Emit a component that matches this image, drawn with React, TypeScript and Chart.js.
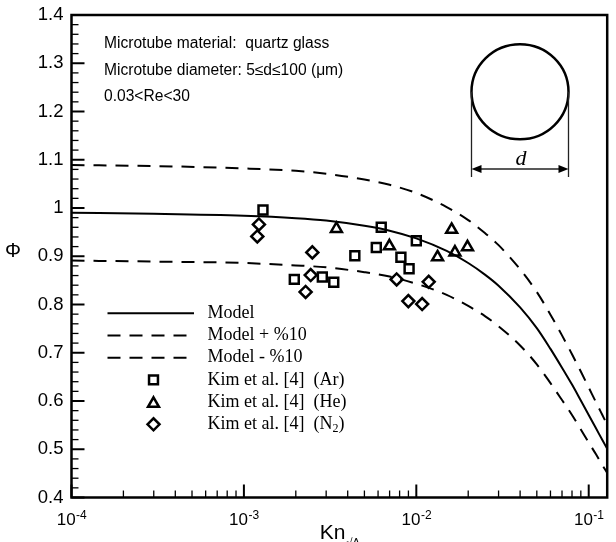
import React, { useEffect, useRef } from 'react';
import { Chart, registerables } from 'chart.js';

Chart.register(...registerables);

// ---- Model curves ----
const KN = [1e-4, 3e-4, 1e-3, 2e-3, 3e-3, 5e-3, 7e-3, 0.01, 0.015, 0.02, 0.025, 0.03, 0.04, 0.05, 0.06, 0.07, 0.08, 0.09, 0.1, 0.11, 0.12, 0.128];
const MODEL = [0.990, 0.988, 0.984, 0.979, 0.974, 0.963, 0.953, 0.937, 0.911, 0.886, 0.862, 0.839, 0.794, 0.751, 0.708, 0.669, 0.634, 0.601, 0.571, 0.544, 0.519, 0.501];
const MODEL_UP = [1.089, 1.087, 1.082, 1.077, 1.071, 1.059, 1.048, 1.031, 1.002, 0.975, 0.948, 0.923, 0.873, 0.826, 0.779, 0.736, 0.697, 0.661, 0.628, 0.598, 0.571, 0.551];
const MODEL_LO = [0.891, 0.889, 0.886, 0.881, 0.877, 0.867, 0.858, 0.843, 0.820, 0.797, 0.776, 0.755, 0.715, 0.676, 0.637, 0.602, 0.571, 0.541, 0.514, 0.490, 0.467, 0.451];

// ---- Experimental data: Kim et al. [4] ----
const AR_KN = [1.29e-3, 6.26e-3, 5.86e-3, 4.40e-3, 1.0e-2, 8.14e-3, 9.08e-3, 1.96e-3, 2.85e-3, 3.32e-3];
const AR_PHI = [0.996, 0.960, 0.918, 0.901, 0.932, 0.898, 0.874, 0.852, 0.857, 0.846];
const HE_KN = [3.44e-3, 6.98e-3, 1.328e-2, 1.603e-2, 1.675e-2, 1.981e-2];
const HE_PHI = [0.957, 0.921, 0.898, 0.955, 0.908, 0.919];
const N2_KN = [1.222e-3, 1.196e-3, 2.494e-3, 2.44e-3, 2.28e-3, 7.69e-3, 1.18e-2, 8.99e-3, 1.081e-2];
const N2_PHI = [0.966, 0.941, 0.908, 0.861, 0.826, 0.852, 0.847, 0.807, 0.801];

// ---- Axes ----
const X_MIN = 1e-4;
const X_MAX = 0.128;
const Y_MIN = 0.4;
const Y_MAX = 1.4;
const Y_LABELS = ['0.4', '0.5', '0.6', '0.7', '0.8', '0.9', '1', '1.1', '1.2', '1.3', '1.4'];
const X_DECADES = [-4, -3, -2, -1];

const LEGEND_LABELS = ['Model', 'Model + %10', 'Model - %10', 'Kim et al. [4]  (Ar)', 'Kim et al. [4]  (He)', 'Kim et al. [4]  (N'];
const NOTE_LINES = ['Microtube material:  quartz glass', 'Microtube diameter: 5\u2264d\u2264100 (\u03bcm)', '0.03<Re<30'];

const SANS = '"Liberation Sans", Arial, sans-serif';
const SERIF = '"Liberation Serif", "Times New Roman", serif';

const pts = (xs: number[], ys: number[]) => xs.map((x, i) => ({ x, y: ys[i] }));

function drawMarker(ctx: CanvasRenderingContext2D, style: string, x: number, y: number, r: number) {
  ctx.beginPath();
  if (style === 'rect') {
    const s = Math.SQRT1_2 * r;
    ctx.rect(x - s, y - s, 2 * s, 2 * s);
  } else if (style === 'triangle') {
    let rad = 0;
    ctx.moveTo(x + Math.sin(rad) * r, y - Math.cos(rad) * r);
    rad += (2 * Math.PI) / 3;
    ctx.lineTo(x + Math.sin(rad) * r, y - Math.cos(rad) * r);
    rad += (2 * Math.PI) / 3;
    ctx.lineTo(x + Math.sin(rad) * r, y - Math.cos(rad) * r);
    ctx.closePath();
  } else {
    ctx.moveTo(x - r, y);
    ctx.lineTo(x, y - r);
    ctx.lineTo(x + r, y);
    ctx.lineTo(x, y + r);
    ctx.closePath();
  }
  ctx.stroke();
}

const decor = {
  id: 'decor',
  afterDatasetsDraw(chart: any) {
    const ctx: CanvasRenderingContext2D = chart.ctx;
    const { left, right, top, bottom } = chart.chartArea;
    const xs = chart.scales.x;
    const ys = chart.scales.y;
    ctx.save();
    ctx.strokeStyle = '#000';
    ctx.fillStyle = '#000';
    ctx.setLineDash([]);

    // y ticks (inward)
    for (let i = 0; i <= 50; i++) {
      const v = Y_MIN + i * 0.02;
      const py = ys.getPixelForValue(v);
      const major = i % 5 === 0;
      ctx.lineWidth = major ? 2 : 1.3;
      ctx.beginPath();
      ctx.moveTo(left, py);
      ctx.lineTo(left + (major ? 13 : 7), py);
      ctx.stroke();
    }
    // x ticks (inward)
    for (const d of X_DECADES) {
      for (let m = 1; m <= 9; m++) {
        const v = m * Math.pow(10, d);
        if (v > X_MAX * 1.0001) continue;
        const px = xs.getPixelForValue(v);
        const major = m === 1;
        ctx.lineWidth = major ? 2 : 1.3;
        ctx.beginPath();
        ctx.moveTo(px, bottom);
        ctx.lineTo(px, bottom - (major ? 13 : 7));
        ctx.stroke();
      }
    }
    // frame
    ctx.lineWidth = 2.5;
    ctx.strokeRect(left, top, right - left, bottom - top);

    // y labels
    ctx.font = `18.5px ${SANS}`;
    ctx.textAlign = 'right';
    ctx.textBaseline = 'middle';
    Y_LABELS.forEach((lab) => {
      ctx.fillText(lab, left - 8, ys.getPixelForValue(parseFloat(lab)));
    });

    // x labels 10^n
    ctx.textBaseline = 'alphabetic';
    ctx.textAlign = 'left';
    X_DECADES.forEach((d) => {
      const px = xs.getPixelForValue(Math.pow(10, d));
      ctx.font = `17px ${SANS}`;
      const w1 = ctx.measureText('10').width;
      ctx.font = `12px ${SANS}`;
      const sup = String(d);
      const w2 = ctx.measureText(sup).width;
      const x0 = px - (w1 + w2) / 2;
      ctx.font = `17px ${SANS}`;
      ctx.fillText('10', x0, 524.5);
      ctx.font = `12px ${SANS}`;
      ctx.fillText(sup, x0 + w1 + 0.5, 519);
    });

    // x title Kn_{√A}
    ctx.font = `21px ${SANS}`;
    const wKn = ctx.measureText('Kn').width;
    ctx.font = `11px ${SANS}`;
    const wSub = ctx.measureText('\u221aA').width;
    const cx = (left + right) / 2;
    const tx = cx - (wKn + wSub) / 2;
    ctx.font = `21px ${SANS}`;
    ctx.fillText('Kn', tx, 538.5);
    ctx.font = `11px ${SANS}`;
    ctx.fillText('\u221aA', tx + wKn + 1, 546);

    // y title Φ
    ctx.font = `20px ${SANS}`;
    ctx.textAlign = 'center';
    ctx.textBaseline = 'middle';
    ctx.fillText('\u03a6', 13, 251);

    // notes
    ctx.font = `15.6px ${SANS}`;
    ctx.textAlign = 'left';
    const noteY = [43.5, 70.5, 97];
    NOTE_LINES.forEach((t, i) => ctx.fillText(t, 104, noteY[i]));

    // legend
    const lgY = [313.3, 335.5, 357.7, 379.9, 402.1, 424.3];
    const styles = ['solid', 'dash', 'dash', 'rect', 'triangle', 'rectRot'];
    styles.forEach((s, i) => {
      const y = lgY[i];
      if (s === 'solid' || s === 'dash') {
        ctx.lineWidth = 2;
        ctx.setLineDash(s === 'dash' ? [13, 9] : []);
        ctx.beginPath();
        ctx.moveTo(107.5, y);
        ctx.lineTo(194, y);
        ctx.stroke();
        ctx.setLineDash([]);
      } else {
        ctx.lineWidth = 2.5;
        drawMarker(ctx, s, 153.5, s === 'triangle' ? y + 1.5 : y, s === 'rectRot' ? 6 : 6.3);
      }
    });
    ctx.textBaseline = 'middle';
    LEGEND_LABELS.forEach((t, i) => {
      ctx.font = `18px ${SERIF}`;
      ctx.fillText(t, 207.5, lgY[i]);
      if (i === 5) {
        const w = ctx.measureText(t).width;
        ctx.font = `12px ${SERIF}`;
        ctx.fillText('2', 207.5 + w, lgY[i] + 5);
        const w2 = ctx.measureText('2').width;
        ctx.font = `18px ${SERIF}`;
        ctx.fillText(')', 207.5 + w + w2, lgY[i]);
      }
    });

    // inset: circle with diameter d
    const ccx = 520, ccy = 91.7, rx = 48.5, ry = 47.5;
    ctx.lineWidth = 2.5;
    ctx.beginPath();
    ctx.ellipse(ccx, ccy, rx, ry, 0, 0, Math.PI * 2);
    ctx.stroke();
    ctx.lineWidth = 1.3;
    ctx.strokeStyle = '#222';
    ctx.beginPath();
    ctx.moveTo(ccx - rx, ccy);
    ctx.lineTo(ccx - rx, 177);
    ctx.moveTo(ccx + rx, ccy);
    ctx.lineTo(ccx + rx, 177);
    ctx.stroke();
    const ay = 169;
    ctx.lineWidth = 1.5;
    ctx.beginPath();
    ctx.moveTo(ccx - rx + 8, ay);
    ctx.lineTo(ccx + rx - 8, ay);
    ctx.stroke();
    ctx.fillStyle = '#000';
    ctx.beginPath();
    ctx.moveTo(ccx - rx, ay);
    ctx.lineTo(ccx - rx + 10, ay - 4);
    ctx.lineTo(ccx - rx + 10, ay + 4);
    ctx.closePath();
    ctx.fill();
    ctx.beginPath();
    ctx.moveTo(ccx + rx, ay);
    ctx.lineTo(ccx + rx - 10, ay - 4);
    ctx.lineTo(ccx + rx - 10, ay + 4);
    ctx.closePath();
    ctx.fill();
    ctx.font = `italic 22px ${SERIF}`;
    ctx.textAlign = 'center';
    ctx.textBaseline = 'alphabetic';
    ctx.fillText('d', ccx + 1, 165);

    ctx.restore();
  },
};

export default function App() {
  const ref = useRef<HTMLCanvasElement | null>(null);
  useEffect(() => {
    if (!ref.current) return;
    const curve = (label: string, data: any[], dash: number[]) => ({
      label,
      data,
      showLine: true,
      borderColor: '#000',
      borderWidth: 2,
      borderDash: dash,
      pointRadius: 0,
      pointHoverRadius: 0,
      cubicInterpolationMode: 'monotone',
      fill: false,
    });
    const marks = (label: string, data: any[], style: string, r: number) => ({
      label,
      data,
      showLine: false,
      pointStyle: style,
      pointRadius: r,
      pointHoverRadius: r,
      pointBorderWidth: 2.5,
      borderColor: '#000',
      backgroundColor: 'rgba(0,0,0,0)',
      pointBackgroundColor: 'rgba(0,0,0,0)',
      pointBorderColor: '#000',
    });
    const chart = new Chart(ref.current, {
      type: 'scatter',
      data: {
        datasets: [
          curve('Model', pts(KN, MODEL), []),
          curve('Model + %10', pts(KN, MODEL_UP), [13, 9]),
          curve('Model - %10', pts(KN, MODEL_LO), [13, 9]),
          marks('Kim et al. [4]  (Ar)', pts(AR_KN, AR_PHI), 'rect', 6.3),
          marks('Kim et al. [4]  (He)', pts(HE_KN, HE_PHI), 'triangle', 6.3),
          marks('Kim et al. [4]  (N2)', pts(N2_KN, N2_PHI), 'rectRot', 6),
        ] as any,
      },
      options: {
        animation: false,
        responsive: false,
        maintainAspectRatio: false,
        events: [],
        layout: { padding: { left: 0, right: 1.5, top: 15, bottom: 0 } },
        plugins: { legend: { display: false }, tooltip: { enabled: false } },
        scales: {
          x: {
            type: 'logarithmic',
            min: X_MIN,
            max: X_MAX,
            grid: { display: false },
            border: { display: false },
            ticks: { display: false },
            afterFit: (s: any) => { s.height = 44.5; },
          },
          y: {
            type: 'linear',
            min: Y_MIN,
            max: Y_MAX,
            grid: { display: false },
            border: { display: false },
            ticks: { display: false },
            afterFit: (s: any) => { s.width = 71.5; },
          },
        },
      } as any,
      plugins: [decor],
    });
    return () => chart.destroy();
  }, []);
  return (
    <div style={{ position: 'absolute', left: 0, top: 0, width: 616, height: 542, background: '#fff' }}>
      <canvas ref={ref} width={616} height={542} style={{ display: 'block' }} />
    </div>
  );
}
